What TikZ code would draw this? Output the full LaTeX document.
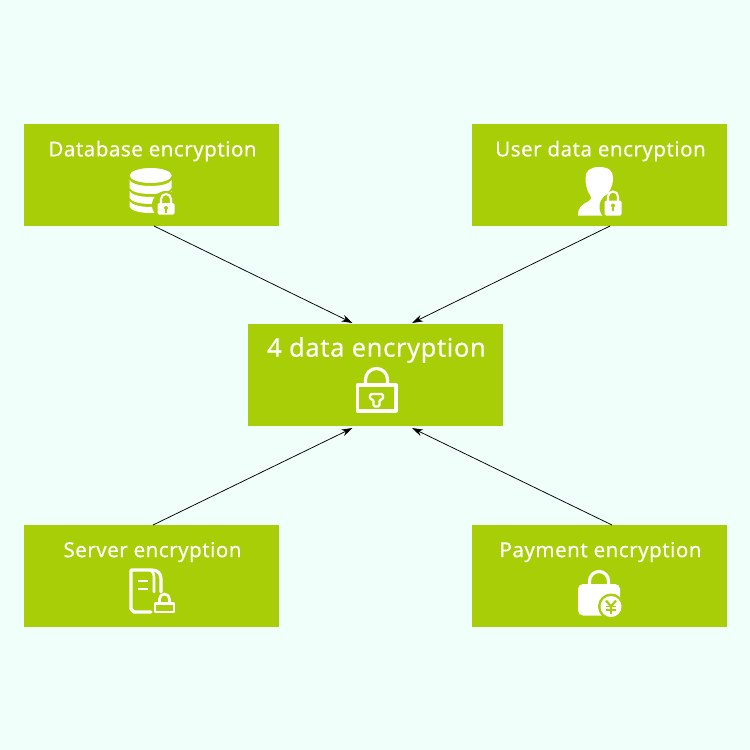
\documentclass[tikz,border=0pt]{standalone}
\usepackage{fontspec}
\setmainfont[LetterSpace=2.2,FakeBold=0.25]{Noto Sans}
\usetikzlibrary{calc,arrows.meta}
\definecolor{bgc}{HTML}{F0FFF9}
\definecolor{boxc}{HTML}{A8CE07}
\tikzset{
  card/.style={fill=boxc,draw=none,minimum width=255pt,minimum height=102pt,inner sep=0pt,outer sep=0pt},
  label/.style={text=white,font=\fontsize{20.6pt}{22pt}\selectfont,inner sep=0pt,anchor=center},
  biglabel/.style={text=white,font=\fontsize{25.6pt}{28pt}\selectfont,inner sep=0pt,anchor=center},
  link/.style={draw=black,line width=0.75pt,-{Stealth[length=11pt,width=7pt]}},
  icl/.style={draw=white,line width=3.2pt,line join=round,line cap=round}
}
\newcommand{\smalllock}[3]{% center x, body top y, body bottom y
  \draw[draw=white,line width=2.1pt] (#1-5,#2+1) -- (#1-5,#2-4) arc[start angle=180,end angle=360,radius=5] -- (#1+5,#2+1);
  \fill[white,rounded corners=1.5pt] (#1-8.5,#2) rectangle (#1+8.5,#3);
  \fill[boxc] (#1,#2+5) circle (2);
  \fill[boxc] (#1-1,#2+5) rectangle (#1+1,#2+10);
}
\begin{document}
\begin{tikzpicture}[x=1pt,y=-1pt]
\useasboundingbox (0,0) rectangle (750,750);
\fill[bgc] (0,0) rectangle (750,750);
\node[card] (db) at (151.5,175) {};
\node[card] (user) at (599.5,175) {};
\node[card] (core) at (375.5,375) {};
\node[card] (srv) at (151.5,576) {};
\node[card] (pay) at (599.5,576) {};
\node[label] (t1) at (152.5,151) {Database encryption};
\node[label] (t2) at (600.5,151) {User data encryption};
\node[biglabel] (t3) at (376.5,350) {4 data encryption};
\node[label] (t4) at (152.5,552) {Server encryption};
\node[label] (t5) at (600.5,552) {Payment encryption};
% connectors
\coordinate (a1) at ($(core.north)+(-23,-1)$);
\coordinate (a2) at ($(core.north)+(36.5,-1)$);
\coordinate (a3) at ($(core.south)+(-23,2)$);
\coordinate (a4) at ($(core.south)+(36.5,2)$);
\coordinate (s1) at ($(db.south)+(2.5,0)$);
\coordinate (s2) at ($(user.south)+(10.5,0)$);
\coordinate (s3) at ($(srv.north)+(1.5,0)$);
\coordinate (s4) at ($(pay.north)+(12.5,0)$);
\draw[link] (s1) -- (a1);
\draw[link] (s2) -- (a2);
\draw[link] (s3) -- (a3);
\draw[link] (s4) -- (a4);
% database icon
\fill[white] (150.7,175.5) ellipse (21 and 7.5);
\fill[white] (129.7,180) .. controls (133,188) and (168,188) .. (171.7,180) -- (171.7,188) .. controls (168,196) and (133,196) .. (129.7,188) -- cycle;
\fill[white] (129.7,191) .. controls (133,199) and (168,199) .. (171.7,191) -- (171.7,198) .. controls (168,206) and (133,206) .. (129.7,198) -- cycle;
\fill[white] (129.7,201) .. controls (133,209) and (168,209) .. (171.7,201) -- (171.7,207) .. controls (168,215) and (133,215) .. (129.7,207) -- cycle;
\fill[boxc] (166,205) circle (14);
\smalllock{166}{203}{214.5}
% user icon
\fill[white] (599,167) .. controls (609,167) and (613,171) .. (613,178) .. controls (613,187) and (609,192) .. (606,196) -- (606,204) -- (612,208) -- (612,215.5) -- (578,215.5) .. controls (578,208) and (581,205) .. (589,201) .. controls (591,200) and (592,198) .. (590,195) .. controls (587,191) and (585.5,185) .. (585.5,178) .. controls (585.5,171) and (590,167) .. (599,167) -- cycle;
\fill[boxc] (614,207) circle (14.5);
\smalllock{613}{200.5}{215.5}
% central lock
\draw[icl] (357.5,385) rectangle (396,411);
\draw[icl] (365.5,385) -- (365.5,379.5) arc[start angle=180,end angle=360,radius=11] -- (387.5,385);
\draw[draw=white,line width=2.3pt,line join=round,rounded corners=1.5pt] (370,394) -- (383,394) -- (383,399.5) -- (379.5,399.5) -- (379.5,406.5) -- (373.5,406.5) -- (373.5,399.5) -- (370,399.5) -- cycle;
% server icon
\draw[icl] (151,612) -- (134,612) -- (131,609) -- (131,570) -- (152,570) .. controls (158,570) and (161,574) .. (161,579) -- (161,592);
\draw[icl,line width=2.6pt] (150,570) .. controls (154,572) and (154,575) .. (154,580) -- (154,592);
\draw[draw=white,line width=2.6pt] (138,581) -- (148,581);
\draw[draw=white,line width=2.6pt] (138,589) -- (148,589);
\draw[draw=white,line width=2.8pt,line join=round] (155,603.5) rectangle (174,612);
\draw[draw=white,line width=2.6pt] (159.5,603) -- (159.5,599) arc[start angle=180,end angle=360,radius=5] -- (169.5,603);
% payment icon
\draw[draw=white,line width=3.2pt] (589.5,586) -- (589.5,581) arc[start angle=180,end angle=360,radius=9.5] -- (608.5,586);
\fill[white,rounded corners=5pt] (578,584) rectangle (620,615.5);
\fill[boxc] (611,606.5) circle (13);
\fill[white] (611,606.5) circle (10.5);
\draw[draw=boxc,line width=2.2pt] (606,600.5) -- (611,606.5) -- (616,600.5);
\draw[draw=boxc,line width=2.2pt] (611,606) -- (611,613.5);
\draw[draw=boxc,line width=1.6pt] (606,606.5) -- (616,606.5);
\draw[draw=boxc,line width=1.6pt] (606,610) -- (616,610);
\end{tikzpicture}
\end{document}
